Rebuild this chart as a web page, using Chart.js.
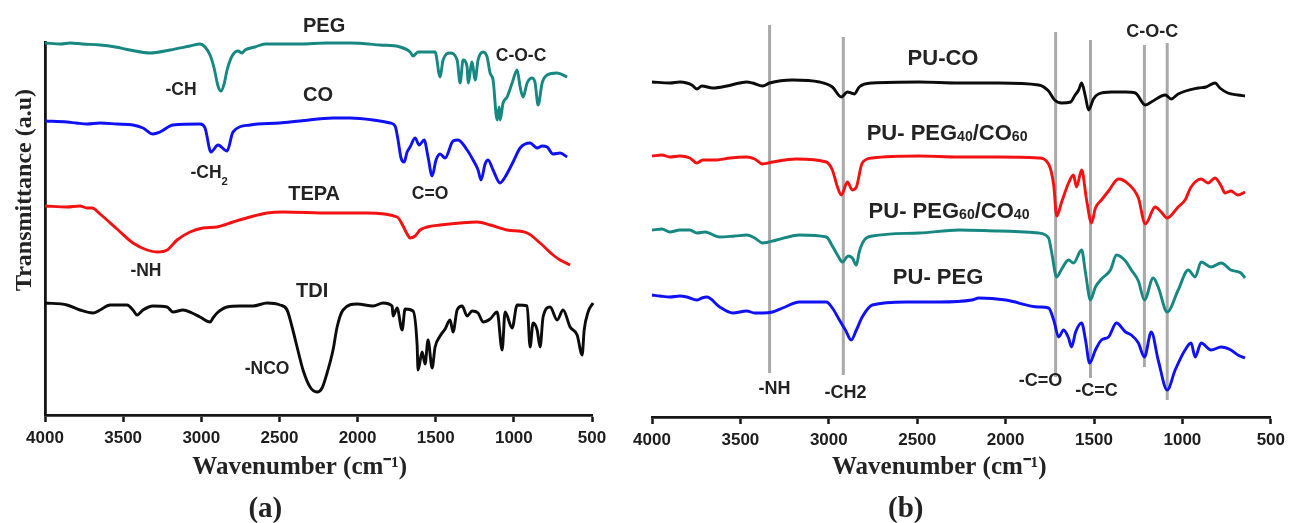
<!DOCTYPE html>
<html>
<head>
<meta charset="utf-8">
<script src="https://cdn.jsdelivr.net/npm/chart.js@4.4.1/dist/chart.umd.min.js"></script>
<style>
  html, body { margin: 0; padding: 0; background: #ffffff; }
  #wrap { position: relative; width: 1291px; height: 523px; overflow: hidden; background: #ffffff; }
  canvas { position: absolute; top: 0; }
  #ftirA { left: 0; }
  #ftirB { left: 620px; }
</style>
</head>
<body>
<div id="wrap">
  <canvas id="ftirA" width="620" height="523"></canvas>
  <canvas id="ftirB" width="671" height="523"></canvas>
</div>
<script>
// Wavenumber axis (cm^-1), shared by both panels
const wavenumberTicks = [4000, 3500, 3000, 2500, 2000, 1500, 1000, 500];
const wavenumberTickLabels = ['4000', '3500', '3000', '2500', '2000', '1500', '1000', '500'];

// Panel (a): raw materials, [wavenumber, transmittance (a.u., stacked offsets)]
const PEG = [[4000,372],[3900,371],[3840,372],[3760,371],[3648,370],[3550,368],[3456,365],[3328,362],[3200,365],[3072,369],[3008,371],[2976,368],[2944,360],[2918,347],[2893,329],[2874,324],[2854,331],[2835,345],[2803,359],[2765,364],[2739,362],[2720,365],[2656,368],[2592,371],[2368,371],[2200,372],[2048,372],[1856,370],[1728,368],[1664,363],[1645,359],[1613,363],[1504,363],[1472,338],[1453,355],[1408,362],[1363,355],[1344,332],[1325,355],[1299,348],[1293,332],[1267,353],[1248,335],[1229,355],[1197,363],[1171,358],[1152,342],[1133,335],[1107,295],[1094,308],[1088,295],[1069,312],[1043,318],[1011,332],[979,345],[960,328],[941,318],[915,332],[883,337],[864,332],[845,310],[819,332],[787,340],[723,342],[659,338]];
const CO = [[4000,294],[3859,293],[3800,292],[3731,291],[3648,292],[3540,291],[3437,290],[3373,287],[3309,281],[3264,283],[3181,290],[3008,291],[2976,287],[2938,263],[2893,270],[2835,264],[2797,283],[2688,290],[2500,292],[2368,294],[2157,297],[2048,297],[1900,295],[1792,292],[1760,289],[1741,275],[1722,257],[1702,253],[1683,263],[1664,268],[1632,277],[1606,270],[1574,275],[1549,258],[1523,239],[1498,255],[1472,261],[1440,257],[1389,274],[1357,275],[1299,265],[1261,255],[1229,245],[1210,235],[1184,251],[1165,255],[1133,245],[1088,232],[1056,238],[1005,253],[960,267],[896,272],[851,267],[819,269],[787,268],[749,261],[704,262],[659,258]];
const TEPA = [[4000,209],[3859,208],[3776,209],[3731,207],[3699,207],[3648,201],[3539,186],[3437,172],[3347,165],[3283,163],[3219,165],[3155,175],[3072,183],[2989,187],[2899,188],[2797,193],[2688,198],[2579,202],[2477,203],[2176,202],[1939,202],[1747,198],[1709,189],[1683,181],[1664,177],[1632,179],[1600,185],[1555,188],[1472,190],[1344,192],[1235,193],[1152,190],[1043,185],[915,182],[832,172],[749,160],[704,155],[640,150]];
const TDI = [[4000,112],[3859,110],[3776,105],[3693,102],[3648,105],[3584,110],[3475,110],[3437,105],[3411,100],[3373,105],[3309,109],[3219,108],[3181,103],[3117,105],[3059,102],[3008,98],[2944,93],[2925,97],[2899,102],[2835,108],[2752,109],[2669,109],[2579,112],[2496,110],[2451,105],[2419,88],[2387,68],[2349,45],[2304,28],[2259,23],[2227,27],[2195,42],[2157,65],[2131,88],[2093,105],[2003,111],[1901,109],[1837,112],[1779,109],[1773,99],[1747,107],[1715,85],[1696,106],[1645,104],[1619,70],[1613,45],[1587,63],[1568,51],[1549,75],[1523,47],[1504,68],[1472,79],[1440,86],[1408,95],[1389,83],[1363,105],[1331,109],[1299,99],[1267,104],[1229,102],[1197,93],[1152,96],[1107,103],[1075,65],[1056,103],[1011,87],[979,110],[915,109],[896,68],[877,92],[851,85],[832,68],[813,98],[768,108],[723,95],[685,105],[640,88],[595,80],[563,60],[550,85],[525,103],[493,112]];

// Panel (b): polyurethanes, [wavenumber, transmittance (a.u., stacked offsets)]
const PU_CO = [[4000,335],[3899,334],[3842,335],[3803,334],[3775,332],[3746,328],[3718,331],[3656,329],[3577,331],[3504,334],[3464,335],[3431,334],[3374,331],[3335,334],[3205,337],[3053,335],[2980,330],[2929,320],[2895,325],[2873,324],[2856,323],[2828,330],[2754,334],[2489,335],[2264,334],[2038,334],[1813,332],[1757,326],[1723,317],[1683,314],[1632,315],[1610,321],[1587,327],[1570,334],[1548,320],[1531,307],[1503,318],[1475,323],[1401,325],[1322,325],[1266,324],[1210,312],[1176,315],[1097,322],[1063,318],[1024,323],[911,329],[866,330],[815,334],[788,329],[743,324],[686,322],[646,321]];
const PU_PEG40_CO60 = [[4000,261],[3944,262],[3899,260],[3842,261],[3786,259],[3746,254],[3713,257],[3634,257],[3560,259],[3464,260],[3419,258],[3374,253],[3318,255],[3183,258],[3014,255],[2980,247],[2951,230],[2929,222],[2895,235],[2867,227],[2844,230],[2811,254],[2754,259],[2489,261],[2264,260],[2038,260],[1813,259],[1757,253],[1728,232],[1711,201],[1683,215],[1644,234],[1616,242],[1599,230],[1570,247],[1542,217],[1514,194],[1492,209],[1458,217],[1418,226],[1362,238],[1306,233],[1249,219],[1210,193],[1154,210],[1120,205],[1086,199],[1024,210],[985,217],[951,230],[894,238],[855,234],[815,239],[781,231],[759,224],[726,226],[686,222],[646,225]];
const PU_PEG60_CO40 = [[4000,187],[3944,188],[3899,185],[3842,187],[3786,187],[3746,184],[3701,185],[3617,180],[3532,181],[3464,182],[3419,179],[3374,174],[3295,177],[3166,182],[3014,180],[2980,171],[2951,162],[2923,155],[2890,161],[2867,159],[2844,152],[2828,165],[2799,177],[2754,181],[2489,184],[2264,187],[2038,186],[1813,184],[1757,179],[1740,165],[1711,140],[1683,148],[1644,157],[1616,154],[1570,167],[1548,144],[1520,117],[1492,130],[1458,138],[1407,147],[1373,162],[1322,156],[1289,147],[1249,136],[1215,117],[1165,139],[1137,130],[1086,105],[1024,127],[967,147],[928,140],[894,155],[838,150],[781,154],[726,147],[669,144],[646,139]];
const PU_PEG = [[4000,122],[3955,121],[3899,120],[3842,121],[3803,120],[3746,117],[3718,119],[3690,120],[3617,110],[3543,104],[3464,106],[3419,104],[3374,104],[3318,105],[3262,109],[3166,115],[3014,115],[2980,109],[2940,97],[2906,87],[2873,77],[2844,87],[2811,100],[2754,112],[2563,115],[2377,115],[2191,117],[2151,119],[1999,117],[1813,110],[1757,109],[1728,97],[1700,80],[1672,87],[1644,79],[1627,70],[1604,85],[1570,94],[1548,77],[1525,54],[1492,67],[1458,77],[1418,80],[1373,94],[1322,85],[1289,82],[1249,74],[1215,60],[1176,85],[1137,57],[1086,27],[1041,47],[985,67],[951,74],[928,60],[894,74],[838,67],[781,70],[726,67],[686,62],[646,59]];

// Band assignment guides in panel (b): wavenumber and vertical extent (a.u.)
const bandWavenumbers = [3335, 2918, 1717, 1520, 1215, 1086];
const bandTop = [392, 380, 385, 377, 372, 374];
const bandBottom = [44, 42, 40, 39, 50, 17];

// Text drawn at data positions; "_{..}" marks small sub-digits
function drawRichText(ctx, item, cx, cy) {
  const family = item.serif ? '"Liberation Serif", "Times New Roman", serif'
                            : '"Liberation Sans", Arial, sans-serif';
  const segs = [];
  const re = /_\{([^}]*)\}/g;
  let last = 0, m;
  while ((m = re.exec(item.text))) {
    if (m.index > last) segs.push({ s: item.text.slice(last, m.index), small: false });
    segs.push({ s: m[1], small: true });
    last = re.lastIndex;
  }
  if (last < item.text.length) segs.push({ s: item.text.slice(last), small: false });
  ctx.save();
  ctx.translate(cx, cy);
  if (item.rot) ctx.rotate(item.rot * Math.PI / 180);
  ctx.fillStyle = item.color || '#232323';
  ctx.textBaseline = 'alphabetic';
  ctx.textAlign = 'left';
  let total = 0;
  for (const sg of segs) {
    sg.size = sg.small ? item.size * 0.64 : item.size;
    ctx.font = `bold ${sg.size}px ${family}`;
    sg.w = ctx.measureText(sg.s).width;
    total += sg.w;
  }
  let px = -total / 2;
  const base = item.size * 0.36;
  for (const sg of segs) {
    ctx.font = `bold ${sg.size}px ${family}`;
    ctx.fillText(sg.s, px, base + (sg.small ? (item.drop || 0) : 0));
    px += sg.w;
  }
  ctx.restore();
}

const spectrumText = {
  id: 'spectrumText',
  afterDraw(chart, args, opts) {
    const { ctx, chartArea, scales } = chart;
    for (const item of opts.items || []) {
      const cx = item.w !== undefined ? scales.x.getPixelForValue(item.w) : chartArea.left + item.left;
      const cy = item.t !== undefined ? scales.y.getPixelForValue(item.t) : chartArea.bottom + item.below;
      drawRichText(ctx, item, cx, cy);
    }
  }
};

function spectrum(data, color) {
  return {
    data: data.map(([w, t]) => ({ x: w, y: t })),
    borderColor: color,
    borderWidth: 2.9,
    pointRadius: 0,
    cubicInterpolationMode: 'monotone',
    clip: false,
    order: 1
  };
}

function bandGuide(i) {
  return {
    data: [{ x: bandWavenumbers[i], y: bandTop[i] }, { x: bandWavenumbers[i], y: bandBottom[i] }],
    borderColor: '#a9a9a9',
    borderWidth: 3,
    pointRadius: 0,
    tension: 0,
    clip: false,
    order: 5
  };
}

function panelOptions(cfg) {
  return {
    responsive: false,
    animation: false,
    events: [],
    layout: { padding: cfg.padding },
    scales: {
      x: {
        type: 'linear',
        reverse: true,
        min: 500,
        max: 4000,
        afterBuildTicks(scale) { scale.ticks = wavenumberTicks.map(v => ({ value: v })); },
        afterFit(scale) { scale.height = cfg.xHeight; },
        ticks: {
          autoSkip: false,
          maxRotation: 0,
          padding: 6,
          color: '#1d1d1d',
          font: { family: '"Liberation Sans", Arial, sans-serif', size: 17, weight: 'bold' },
          callback: (v) => wavenumberTickLabels[wavenumberTicks.indexOf(v)]
        },
        grid: { display: true, drawOnChartArea: false, drawTicks: true, tickLength: 7, tickColor: '#151515', tickWidth: 2.5 },
        border: { display: true, color: '#151515', width: 2.8 }
      },
      y: {
        type: 'linear',
        min: 0,
        max: cfg.yMax,
        display: cfg.yAxis,
        afterFit(scale) { scale.width = 0; },
        ticks: { display: false },
        grid: { display: false },
        border: { display: true, color: '#151515', width: 2.8 }
      }
    },
    plugins: {
      legend: { display: false },
      tooltip: { enabled: false },
      spectrumText: { items: cfg.texts }
    }
  };
}

// Panel (a)
new Chart(document.getElementById('ftirA'), {
  type: 'line',
  data: {
    datasets: [
      spectrum(PEG, '#168781'),
      spectrum(CO, '#1010f5'),
      spectrum(TEPA, '#f21212'),
      spectrum(TDI, '#0c0c0c')
    ]
  },
  options: panelOptions({
    padding: { left: 45, right: 28, top: 42, bottom: 0 },
    xHeight: 108,
    yMax: 373,
    yAxis: true,
    texts: [
      { text: 'PEG', w: 2214, t: 390, size: 20 },
      { text: 'CO', w: 2253, t: 321, size: 20 },
      { text: 'TEPA', w: 2278, t: 222, size: 20 },
      { text: 'TDI', w: 2291, t: 125, size: 20 },
      { text: '-CH', w: 3130, t: 326, size: 17.5 },
      { text: '-CH_{2}', w: 2950, t: 243, size: 17.5, drop: 7 },
      { text: 'C=O', w: 1536, t: 222, size: 17.5 },
      { text: 'C-O-C', w: 954, t: 360, size: 17.5 },
      { text: '-NH', w: 3354, t: 145, size: 17.5 },
      { text: '-NCO', w: 2579, t: 47, size: 17.5 },
      { text: 'Wavenumber (cm⁻¹)', w: 2370, below: 50, size: 25, serif: true },
      { text: '(a)', w: 2590, below: 92, size: 29, serif: true },
      { text: 'Transmittance (a.u)', left: -23, t: 225, size: 24, serif: true, rot: -90 }
    ]
  }),
  plugins: [spectrumText]
});

// Panel (b)
new Chart(document.getElementById('ftirB'), {
  type: 'line',
  data: {
    datasets: [
      spectrum(PU_CO, '#0c0c0c'),
      spectrum(PU_PEG40_CO60, '#f21212'),
      spectrum(PU_PEG60_CO40, '#168781'),
      spectrum(PU_PEG, '#1010f5'),
      ...bandWavenumbers.map((_, i) => bandGuide(i))
    ]
  },
  options: panelOptions({
    padding: { left: 32, right: 18, top: 20, bottom: 0 },
    xHeight: 106,
    yMax: 397,
    yAxis: false,
    texts: [
      { text: 'PU-CO', w: 2354, t: 360, size: 22 },
      { text: 'PU- PEG_{40}/CO_{60}', w: 2331, t: 285, size: 22, drop: 1 },
      { text: 'PU- PEG_{60}/CO_{40}', w: 2320, t: 207, size: 22, drop: 1 },
      { text: 'PU- PEG', w: 2382, t: 141, size: 22 },
      { text: '-NH', w: 3307, t: 29, size: 18 },
      { text: '-CH2', w: 2906, t: 25, size: 18 },
      { text: '-C=O', w: 1802, t: 37, size: 18 },
      { text: '-C=C', w: 1486, t: 27, size: 18 },
      { text: 'C-O-C', w: 1170, t: 386, size: 18 },
      { text: 'Wavenumber (cm⁻¹)', w: 2375, below: 48, size: 25, serif: true },
      { text: '(b)', w: 2565, below: 90, size: 29, serif: true }
    ]
  }),
  plugins: [spectrumText]
});
</script>
</body>
</html>
